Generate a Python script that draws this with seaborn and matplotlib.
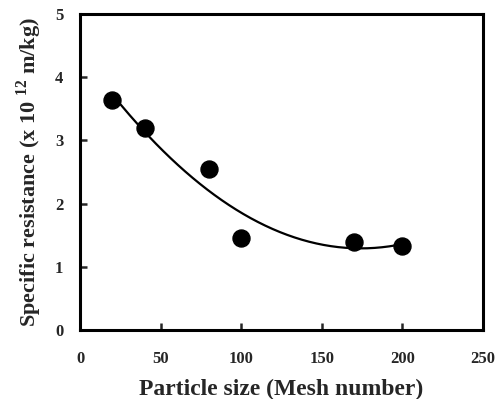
import numpy as np
import pandas as pd
import matplotlib
matplotlib.use("Agg")
import matplotlib.pyplot as plt
import seaborn as sns

mesh = [20, 40, 80, 100, 170, 200]
resistance = [3.64, 3.20, 2.55, 1.46, 1.39, 1.33]
x_ticks = [0, 50, 100, 150, 200, 250]
y_ticks = [0, 1, 2, 3, 4, 5]

df = pd.DataFrame({"mesh": mesh, "res": resistance})

sns.set_theme(style="ticks")
plt.rcParams["font.family"] = ["Liberation Serif", "DejaVu Serif"]
plt.rcParams["font.weight"] = "bold"
plt.rcParams["mathtext.fontset"] = "custom"
plt.rcParams["mathtext.rm"] = "Liberation Serif:bold"
plt.rcParams["mathtext.bf"] = "Liberation Serif:bold"

fig = plt.figure(figsize=(5.04, 3.99), dpi=100)
ax = fig.add_axes([0.159, 0.173, 0.799, 0.792])

# second-order trendline through the data
coef = np.polyfit(df["mesh"], df["res"], 2)
xs = np.linspace(min(mesh), max(mesh), 200)
sns.lineplot(x=xs, y=np.polyval(coef, xs), ax=ax, color="black", lw=1.6)
sns.scatterplot(data=df, x="mesh", y="res", ax=ax, color="black", s=150,
                edgecolor="black", zorder=3)

ax.set_xlim(0, 250)
ax.set_ylim(0, 5)
ax.set_xticks(x_ticks)
ax.set_yticks(y_ticks)
ax.tick_params(direction="in", length=5, width=1.8, labelsize=12)
ax.tick_params(axis="x", pad=15)
ax.tick_params(axis="y", pad=12)
for lab in ax.get_xticklabels() + ax.get_yticklabels():
    lab.set_fontweight("bold")
for s in ax.spines.values():
    s.set_visible(True)
    s.set_linewidth(2.2)
    s.set_color("black")

ax.set_xlabel("Particle size (Mesh number)", fontsize=17, fontweight="bold", labelpad=9)
ax.set_ylabel(r"Specific resistance (x 10 $^{12}$ m/kg)", fontsize=16,
              fontweight="bold", labelpad=8)

fig.savefig("out.png", dpi=100)
